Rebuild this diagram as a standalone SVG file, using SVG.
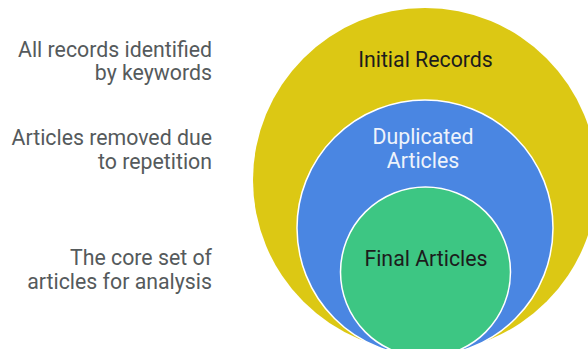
<svg xmlns="http://www.w3.org/2000/svg" width="588" height="349" viewBox="0 0 588 349">
  <style>
    text { font-family: Roboto, "Liberation Sans", sans-serif; font-size: 21.3px; }
    .note { fill: #555a5c; text-anchor: end; }
    .label { text-anchor: middle; }
    .dark { fill: #1c1c1c; }
    .light { fill: #eef3fb; }
    .ring { stroke: #ffffff; stroke-width: 1.5; }
  </style>
  <rect width="588" height="349" fill="#ffffff"/>

  <!-- descriptions on the left -->
  <g id="notes">
    <text class="note" x="212" y="57">All records identified</text>
    <text class="note" x="212" y="80">by keywords</text>
    <text class="note" x="212" y="145">Articles removed due</text>
    <text class="note" x="212" y="169">to repetition</text>
    <text class="note" x="212" y="265">The core set of</text>
    <text class="note" x="212" y="289">articles for analysis</text>
  </g>

  <!-- nested circles -->
  <g id="initial-records">
    <circle cx="425" cy="180" r="172" fill="#dcc814"/>
    <text class="label dark" x="425.5" y="67">Initial Records</text>
  </g>
  <g id="duplicated-articles">
    <circle class="ring" cx="425" cy="228" r="128" fill="#4a86e2"/>
    <text class="label light" x="423" y="144">Duplicated</text>
    <text class="label light" x="423" y="168">Articles</text>
  </g>
  <g id="final-articles">
    <circle class="ring" cx="425.5" cy="272" r="85" fill="#3dc683"/>
    <text class="label dark" x="426" y="266">Final Articles</text>
  </g>
  <g id="connectors"/>
</svg>
